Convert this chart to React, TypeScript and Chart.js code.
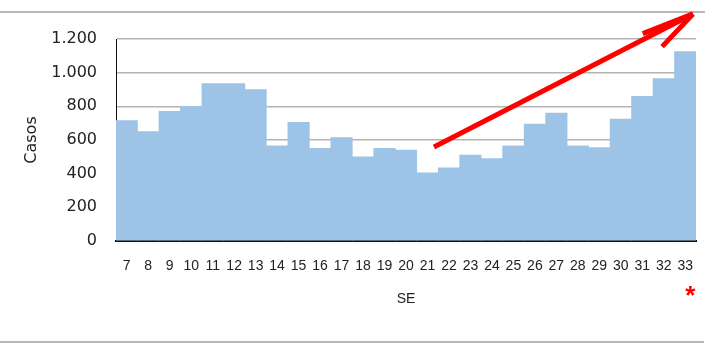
import React, { useEffect, useRef } from "react";
import { Chart, registerables } from "chart.js";

Chart.register(...registerables);

const categories = ["7", "8", "9", "10", "11", "12", "13", "14", "15", "16", "17", "18", "19", "20", "21", "22", "23", "24", "25", "26", "27", "28", "29", "30", "31", "32", "33"];
const casos = [715, 650, 770, 800, 935, 935, 900, 565, 705, 550, 615, 500, 550, 540, 405, 435, 510, 490, 565, 695, 760, 565, 555, 725, 860, 965, 1125];
const yTickValues = [0, 200, 400, 600, 800, 1000, 1200];
const xTitle = "SE";
const yTitle = "Casos";
const footnoteMark = "*";
// trend arrow in data coordinates (category index, value)
const trendStart = [14.3, 558];
const trendEnd = [26.36, 1349];

const FONT = "'Liberation Sans', Arial, sans-serif";
const WIDE = "'DejaVu Sans', Verdana, sans-serif";
const TEXT = "#222222";

function fmtThousands(v: number): string {
  const s = String(Math.round(v));
  return s.replace(/\B(?=(\d{3})+(?!\d))/g, ".");
}

const decorPlugin = {
  id: "decor",
  afterDraw(chart: any) {
    const ctx = chart.ctx as CanvasRenderingContext2D;
    const xs = chart.scales.x;
    const ys = chart.scales.y;
    ctx.save();
    // frame lines top/bottom
    ctx.strokeStyle = "#b8b8b8";
    ctx.lineWidth = 2;
    ctx.beginPath();
    ctx.moveTo(0, 12);
    ctx.lineTo(705, 12);
    ctx.moveTo(0, 342);
    ctx.lineTo(704, 342);
    ctx.stroke();

    // trend arrow
    const x0 = xs.getPixelForValue(trendStart[0]);
    const y0 = ys.getPixelForValue(trendStart[1]);
    const x1 = xs.getPixelForValue(trendEnd[0]);
    const y1 = ys.getPixelForValue(trendEnd[1]);
    ctx.strokeStyle = "#ff0000";
    ctx.lineWidth = 5;
    ctx.lineCap = "butt";
    ctx.beginPath();
    ctx.moveTo(x0, y0);
    ctx.lineTo(x1, y1);
    ctx.stroke();
    const back = Math.atan2(y0 - y1, x0 - x1);
    const wings = [
      { len: 54, off: 0.1 },
      { len: 45, off: -0.34 },
    ];
    ctx.beginPath();
    for (const w of wings) {
      ctx.moveTo(x1, y1);
      ctx.lineTo(x1 + w.len * Math.cos(back + w.off), y1 + w.len * Math.sin(back + w.off));
    }
    ctx.stroke();

    // asterisk under last category
    const lastX = xs.getPixelForValue(categories.length - 1);
    ctx.fillStyle = "#ff0000";
    ctx.font = "bold 26px " + FONT;
    ctx.textAlign = "center";
    ctx.textBaseline = "alphabetic";
    ctx.fillText(footnoteMark, lastX + 5, 304);
    ctx.restore();
  },
};

export default function App() {
  const ref = useRef<HTMLCanvasElement | null>(null);
  useEffect(() => {
    if (!ref.current) return;
    const chart = new Chart(ref.current, {
      type: "bar",
      data: {
        labels: categories,
        datasets: [
          {
            data: casos,
            backgroundColor: "#9dc3e6",
            borderWidth: 0,
            barPercentage: 1,
            categoryPercentage: 1,
          },
        ],
      },
      options: {
        animation: false,
        responsive: false,
        devicePixelRatio: 1,
        layout: { padding: { left: 0, top: 39, right: 28, bottom: 0 } },
        plugins: { legend: { display: false }, tooltip: { enabled: false } },
        scales: {
          x: {
            grid: { display: false, drawTicks: false },
            border: { display: true, color: "#111111", width: 2 },
            ticks: {
              color: TEXT,
              font: { family: FONT, size: 14 },
              padding: 17,
              maxRotation: 0,
              autoSkip: false,
            },
            title: {
              display: true,
              text: xTitle,
              color: TEXT,
              font: { family: FONT, size: 14 },
              padding: { top: 0, bottom: 40 },
            },
            afterFit: (s: any) => {
              s.height = 107;
            },
          },
          y: {
            min: 0,
            max: 1200,
            afterBuildTicks: (s: any) => {
              s.ticks = yTickValues.map((v) => ({ value: v }));
            },
            grid: {
              color: (c: any) => (c.tick && c.tick.value === 0 ? "rgba(0,0,0,0)" : "#b4b4b4"),
              lineWidth: 1.5,
              drawTicks: false,
            },
            border: { display: true, color: "#111111", width: 1 },
            ticks: {
              color: TEXT,
              font: { family: WIDE, size: 16 },
              padding: 19,
              callback: (v: any) => fmtThousands(Number(v)),
            },
            title: {
              display: true,
              text: yTitle,
              color: TEXT,
              font: { family: WIDE, size: 16 },
              padding: { top: 22, bottom: 0 },
            },
            afterFit: (s: any) => {
              s.width = 116;
            },
          },
        },
      },
      plugins: [decorPlugin],
    } as any);
    return () => chart.destroy();
  }, []);
  return (
    <div style={{ position: "fixed", left: 0, top: 0, width: 724, height: 348, background: "#fff" }}>
      <canvas ref={ref} width={724} height={348} />
    </div>
  );
}
